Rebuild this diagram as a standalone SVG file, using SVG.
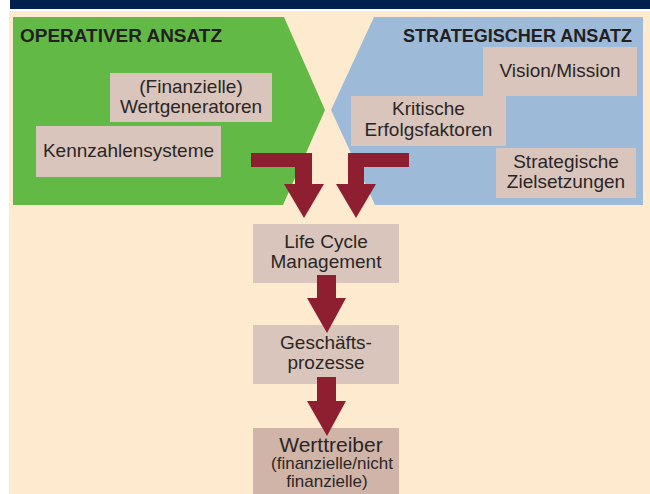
<svg xmlns="http://www.w3.org/2000/svg" width="650" height="494" viewBox="0 0 650 494">
<style>
.t{font-family:"Liberation Sans",Arial,sans-serif;font-size:19px;fill:#2b2626;text-anchor:middle}
.h{font-family:"Liberation Sans",Arial,sans-serif;font-size:19px;font-weight:bold;fill:#231f20}
.box{fill:#d9c5bb}
.arr{fill:#8e1f31}
</style>
<rect x="0" y="0" width="650" height="494" fill="#ffffff"/>
<rect x="10" y="0" width="640" height="9" fill="#00204e"/>
<rect x="9" y="11" width="641" height="483" fill="#feebcf"/>
<g id="operativ">
<polygon points="13,17 284,17 325,110 283,205 13,205" fill="#62b946"/>
<text class="h" x="20" y="42" textLength="202" lengthAdjust="spacingAndGlyphs">OPERATIVER ANSATZ</text>
</g>
<g id="strategisch">
<polygon points="374,17 643,17 643,205 375,205 331,110" fill="#9dbad8"/>
<text class="h" x="403" y="42" textLength="229" lengthAdjust="spacingAndGlyphs">STRATEGISCHER ANSATZ</text>
</g>
<g id="wertgeneratoren">
<rect class="box" x="110" y="73" width="162" height="49"/>
<text class="t" x="191" y="93">(Finanzielle)</text>
<text class="t" x="191" y="113">Wertgeneratoren</text>
</g>
<g id="kennzahlensysteme">
<rect class="box" x="36" y="126" width="185" height="51"/>
<text class="t" x="128.5" y="157">Kennzahlensysteme</text>
</g>
<g id="vision">
<rect class="box" x="483" y="47" width="154" height="49"/>
<text class="t" x="560" y="77">Vision/Mission</text>
</g>
<g id="erfolgsfaktoren">
<rect class="box" x="351" y="96" width="155" height="50"/>
<text class="t" x="428.5" y="115">Kritische</text>
<text class="t" x="428.5" y="136">Erfolgsfaktoren</text>
</g>
<g id="zielsetzungen">
<rect class="box" x="496" y="148" width="140" height="50"/>
<text class="t" x="566" y="168">Strategische</text>
<text class="t" x="566" y="188">Zielsetzungen</text>
</g>
<g id="lifecycle">
<rect class="box" x="253" y="224" width="146" height="59"/>
<text class="t" x="326" y="248">Life Cycle</text>
<text class="t" x="326" y="268">Management</text>
</g>
<g id="geschaeftsprozesse">
<rect class="box" x="253" y="325" width="146" height="59"/>
<text class="t" x="326" y="349">Geschäfts-</text>
<text class="t" x="326" y="369">prozesse</text>
</g>
<g id="werttreiber">
<rect x="253" y="428" width="146" height="70" fill="#d0b4a8"/>
<text class="t" x="331" y="452" style="font-size:21px">Werttreiber</text>
<text class="t" x="332" y="469" style="font-size:17px">(finanzielle/nicht</text>
<text class="t" x="327" y="487" style="font-size:17px">finanzielle)</text>
</g>
<g id="connectors">
<path class="arr" d="M251,153 H312 V184 H324 L304,218 L284,184 H295 V167 H251 Z"/>
<path class="arr" d="M409,153 H348 V184 H336 L356,218 L376,184 H364 V167 H409 Z"/>
<path class="arr" d="M317,275 H336 V298 H346 L327,333 L307,298 H317 Z"/>
<path class="arr" d="M317,377 H336 V401 H346 L327,436 L307,401 H317 Z"/>
</g>
</svg>
